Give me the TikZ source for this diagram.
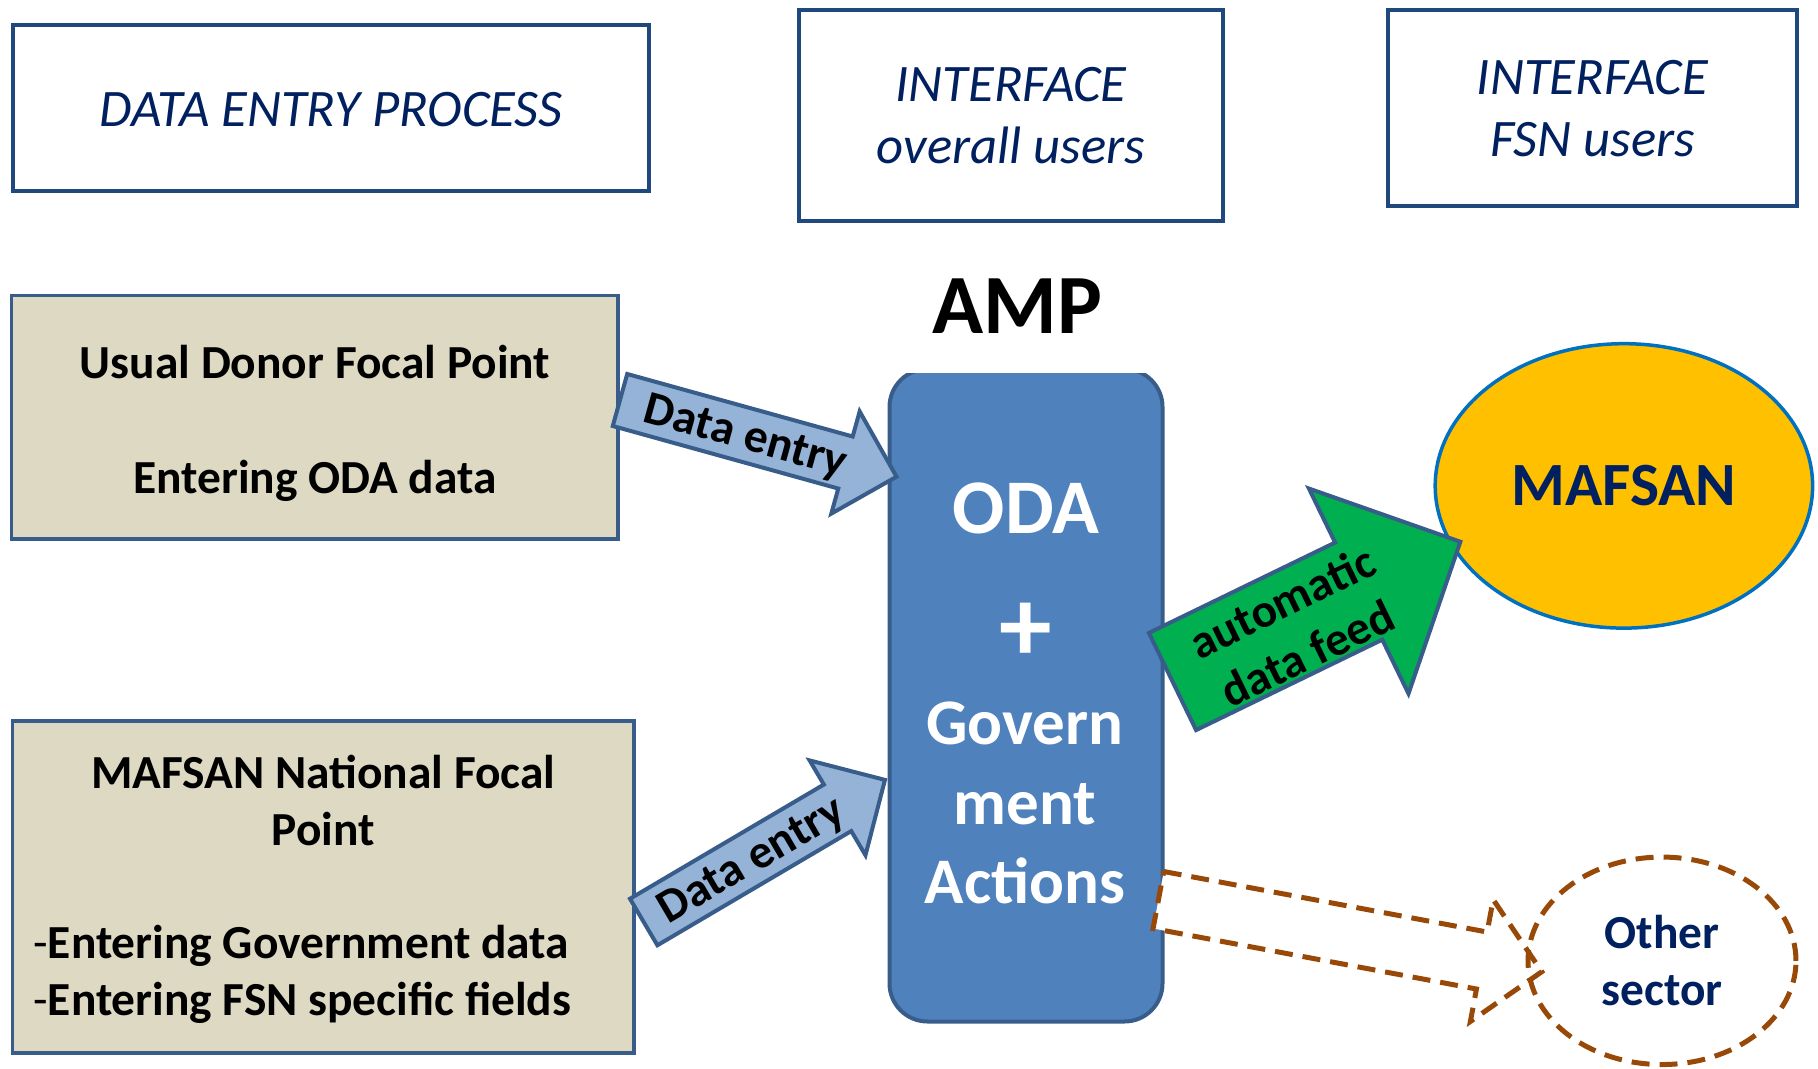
\documentclass[tikz,border=0pt]{standalone}
\usepackage{fontspec}
\setmainfont{Carlito}
\usepackage{tikz}
\usetikzlibrary{shapes.geometric}

\definecolor{boxblue}{HTML}{1F497D}
\definecolor{navytext}{HTML}{002060}
\definecolor{tanfill}{HTML}{DDD9C3}
\definecolor{edgeblue}{HTML}{385D8A}
\definecolor{ampblue}{HTML}{4F81BD}
\definecolor{entryblue}{HTML}{95B3D7}
\definecolor{feedgreen}{HTML}{00B050}
\definecolor{mafsangold}{HTML}{FFC000}
\definecolor{mafsanline}{HTML}{0070C0}
\definecolor{otherbrown}{HTML}{984807}

\begin{document}
\begin{tikzpicture}[x=0.02cm,y=-0.02cm,
    headbox/.style={draw=boxblue,line width=0.08cm,fill=white},
    headtext/.style={anchor=base,inner sep=0pt,text=navytext,font=\fontsize{30}{35}\selectfont\itshape},
    tanbox/.style={draw=edgeblue,line width=0.075cm,fill=tanfill},
    tantext/.style={anchor=base,inner sep=0pt,font=\fontsize{27}{32.5}\selectfont\bfseries},
    entryarrow/.style={draw=edgeblue,line width=0.08cm,fill=entryblue},
    otherline/.style={draw=otherbrown,line width=0.1cm,dash pattern=on 0.36cm off 0.2cm},
    arrowtext/.style={inner sep=0pt,align=center,font=\fontsize{27}{32.5}\selectfont\bfseries},
    amptext/.style={anchor=base,inner sep=0pt,text=white,font=\fontsize{37}{45}\selectfont\bfseries}]
                \useasboundingbox (0,0) rectangle (1818,1068);

                % headings
                \draw[headbox] (13.3,25) rectangle (649,190.8);
                \draw[headbox] (799.2,9.8) rectangle (1223.2,220.8);
                \draw[headbox] (1387.8,9.8) rectangle (1797,206.4);
                \node[headtext] (dep) at (331,126.7) {DATA ENTRY PROCESS};
                \node[headtext] (all1) at (1011,101.7) {INTERFACE};
                \node[headtext] (all2) at (1011,163.3) {overall users};
                \node[headtext] (fsn1) at (1592.5,94.4) {INTERFACE};
                \node[headtext] (fsn2) at (1592.5,156) {FSN users};
                \node[anchor=base,inner sep=0pt,font=\fontsize{48}{58}\selectfont\bfseries] (amp) at (1017.5,333) {AMP};

                % focal points
                \draw[tanbox] (11.6,295.6) rectangle (618,539);
                \draw[tanbox] (12.5,720.8) rectangle (634.2,1052.8);
                \node[tantext] (donor1) at (315,378.5) {Usual Donor Focal Point};
                \node[tantext] (donor2) at (315,493) {Entering ODA data};
                \node[tantext] (natl1) at (323.3,788.3) {MAFSAN National Focal};
                \node[tantext] (natl2) at (323.3,845) {Point};
                \node[tantext,anchor=base west] (natl3) at (33,958.3) {{\mdseries -}Entering Government data};
                \node[tantext,anchor=base west] (natl4) at (33,1015) {{\mdseries -}Entering FSN specific fields};

                % AMP block
                \begin{scope}
                \clip (870,373.5) rectangle (1180,1040);
                \draw[draw=edgeblue,line width=0.08cm,fill=ampblue,rounded corners=0.76cm] (889.5,369) rectangle (1162.5,1021.5);
                \end{scope}
                \node[amptext,font=\fontsize{44}{53}\selectfont\bfseries] (oda) at (1026,533) {ODA};
                \node[amptext,anchor=center,font=\fontsize{60}{72}\selectfont\bfseries] (plus) at (1026,632) {+};
                \node[amptext] (gov1) at (1025,744) {Govern};
                \node[amptext] (gov2) at (1025,824) {ment};
                \node[amptext] (gov3) at (1025,903.3) {Actions};

                \node[ellipse,draw=mafsanline,line width=0.07cm,fill=mafsangold,minimum width=7.55cm,minimum height=5.69cm,
                      text=navytext,font=\fontsize{35}{42}\selectfont\bfseries] (mafsan) at (1623.9,485.9) {MAFSAN};

                % arrows
                \begin{scope}[shift={(620,400)},rotate=-15.5]
                \draw[entryarrow] (0,-27) -- (234,-27) -- (234,-53) -- (287,0) -- (234,53) -- (234,27) -- (0,27) -- cycle;
                \end{scope}
                \begin{scope}[shift={(643.7,922)},rotate=30.5]
                \draw[entryarrow] (0,-27) -- (225,-27) -- (225,-55) -- (280,0) -- (225,55) -- (225,27) -- (0,27) -- cycle;
                \end{scope}
                \begin{scope}[shift={(1172.5,681.5)},rotate=25.9]
                \draw[entryarrow,fill=feedgreen] (0,-54) -- (207,-54) -- (207,-114) -- (320,0) -- (207,114) -- (207,54) -- (0,54) -- cycle;
                \end{scope}
                \begin{scope}[shift={(1158.4,900)},rotate=-10.6]
                \draw[otherline,fill=white] (0,-29) -- (329,-29) -- (329,-62) -- (390,0) -- (329,62) -- (329,29) -- (0,29) -- cycle;
                \end{scope}
                \node[arrowtext,rotate=-15.5] (entry1) at (745,438) {Data entry};
                \node[arrowtext,rotate=30.5] (entry2) at (752,862) {Data entry};
                \node[arrowtext,rotate=25.9] (feed) at (1294.6,627.5) {automatic\\data feed};

                \node[ellipse,otherline,minimum width=5.36cm,minimum height=4.15cm,
                      align=center,text=navytext,font=\fontsize{27}{32.5}\selectfont\bfseries] (other) at (1662,960.8) {Other\\sector};
\end{tikzpicture}
\end{document}
